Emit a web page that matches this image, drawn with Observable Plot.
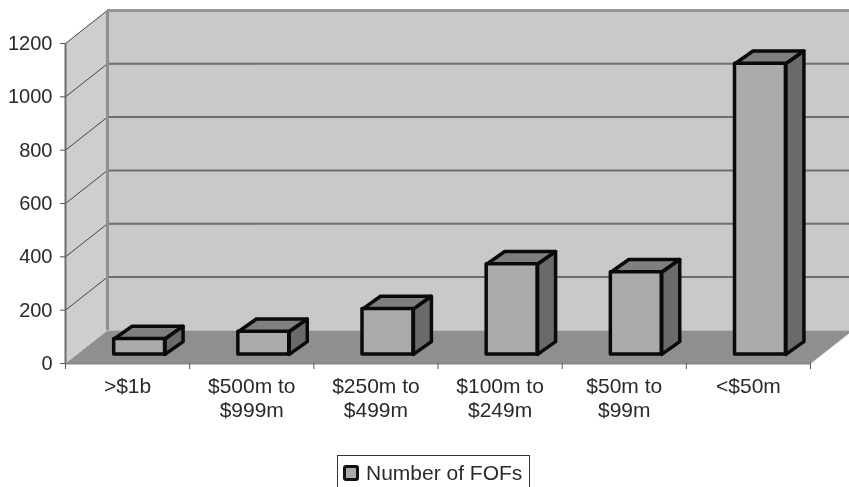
<!DOCTYPE html>
<html>
<head>
<meta charset="utf-8">
<script src="https://cdn.jsdelivr.net/npm/d3@7"></script>
<script src="https://cdn.jsdelivr.net/npm/@observablehq/plot@0.6"></script>
<style>
html,body{margin:0;padding:0;background:#fff;overflow:hidden}
#chart svg{display:block;filter:blur(0.45px)}
#legend{position:absolute;left:337px;top:455px;width:191px;height:40px;border:1px solid #333;background:#fff;
  font:21px "Liberation Sans",Arial,sans-serif;color:#2a2a2a;white-space:nowrap;filter:blur(0.35px)}
#legend i{position:absolute;left:5px;top:9px;width:10px;height:10px;background:#aaa;border:3px solid #111;border-radius:3px}
#legend span{position:absolute;left:28px;top:4px;line-height:26px}
</style>
</head>
<body>
<div id="chart"></div>
<div id="legend"><i></i><span>Number of FOFs</span></div>
<script>
const categories = [">$1b", "$500m to\n$999m", "$250m to\n$499m", "$100m to\n$249m", "$50m to\n$99m", "<$50m"];
const values = [58, 85, 170, 338, 308, 1090];
const yTicks = [0, 200, 400, 600, 800, 1000, 1200];
const legendLabel = "Number of FOFs";

// 3D projection of the chart's box, in data units
const depthX = 0.338, depthY = 124;
const barDepthX = 0.145, barDepthY = 48;
const barInsetX = 0.097, barInsetY = 34;
const barWidth = 0.41;

const poly = (id, pts) => pts.map(([x, y]) => ({id, x, y}));
const n = categories.length;

const floor = poly("floor", [[0,0],[n,0],[n+depthX,depthY],[depthX,depthY],[0,0]]);
const wall = poly("wall", [[depthX,depthY],[n+depthX,depthY],[n+depthX,1200+depthY],[depthX,1200+depthY],[depthX,depthY]]);
const side = poly("side", [[0,0],[depthX,depthY],[depthX,1200+depthY],[0,1200],[0,0]]);

const bars = values.map((v, i) => {
  const x1 = i + 0.5 + barInsetX - barWidth / 2, x2 = x1 + barWidth;
  const y1 = barInsetY, y2 = barInsetY + v;
  return {i, v, x1, x2, y1, y2,
    top: poly("t" + i, [[x1,y2],[x2,y2],[x2+barDepthX,y2+barDepthY],[x1+barDepthX,y2+barDepthY],[x1,y2]]),
    right: poly("r" + i, [[x2,y1],[x2+barDepthX,y1+barDepthY],[x2+barDepthX,y2+barDepthY],[x2,y2],[x2,y1]])};
});

const grid = yTicks.slice(1, -1);
const sideLines = yTicks.slice(1).flatMap(t => poly("s" + t, [[0,t],[depthX,t+depthY]]));
const backLines = grid.flatMap(t => poly("b" + t, [[depthX,t+depthY],[n+depthX,t+depthY]]));

const fontFamily = '"Liberation Sans", Arial, sans-serif';
const chart = Plot.plot({
  width: 849, height: 452,
  marginLeft: 65, marginRight: 39, marginTop: 43, marginBottom: 89,
  style: {background: "#fff", fontFamily, color: "#2a2a2a"},
  x: {domain: [0, n], axis: null},
  y: {domain: [0, 1200], axis: null},
  marks: [
    Plot.line(wall, {x: "x", y: "y", fill: "#c9c9c9", stroke: "none"}),
    Plot.line(side, {x: "x", y: "y", fill: "#cecece", stroke: "none"}),
    Plot.line(floor, {x: "x", y: "y", fill: "#8f8f8f", stroke: "none"}),
    Plot.line(backLines, {x: "x", y: "y", z: "id", stroke: "#6e6e6e", strokeWidth: 2}),
    Plot.line(sideLines, {x: "x", y: "y", z: "id", stroke: "#444", strokeWidth: 1}),
    Plot.ruleX([depthX], {y1: depthY, y2: 1200 + depthY, stroke: "#8f8f8f", strokeWidth: 3}),
    Plot.ruleY([1200 + depthY], {x1: depthX, x2: n + depthX, stroke: "#979797", strokeWidth: 3}),
    Plot.ruleX([0], {y1: 0, y2: 1200, stroke: "#6c6c6c", strokeWidth: 2}),
    Plot.ruleY([0], {x1: 0, x2: n, stroke: "#888", strokeWidth: 2}),
    Plot.line(poly("e", [[n,0],[n+depthX,depthY]]), {x: "x", y: "y", stroke: "#aaa", strokeWidth: 1}),
    Plot.line(bars.flatMap(b => b.top), {x: "x", y: "y", z: "id", fill: "#7f7f7f", stroke: "#0a0a0a", strokeWidth: 3.5, strokeLinejoin: "round"}),
    Plot.line(bars.flatMap(b => b.right), {x: "x", y: "y", z: "id", fill: "#6a6a6a", stroke: "#0a0a0a", strokeWidth: 3.5, strokeLinejoin: "round"}),
    Plot.rect(bars, {x1: "x1", x2: "x2", y1: "y1", y2: "y2", fill: "#ababab", stroke: "#0a0a0a", strokeWidth: 3.5, strokeLinejoin: "round", inset: 0}),
    Plot.axisY({ticks: yTicks, tickSize: 5, tickPadding: 8, fontSize: 20, label: null, stroke: "#555", fill: "#2a2a2a", textStroke: "none", tickFormat: d => String(d)}),
    Plot.axisX({ticks: d3.range(n + 1), tickSize: 6, text: null, label: null, stroke: "#555"}),
    Plot.axisX({ticks: d3.range(n).map(i => i + 0.5), tickSize: 0, tickPadding: 12, fontSize: 21, label: null,
      lineHeight: 1.15, tickFormat: d => categories[Math.floor(d)]})
  ]
});
document.getElementById("chart").append(chart);
document.querySelector("#legend span").textContent = legendLabel;
</script>
</body>
</html>
